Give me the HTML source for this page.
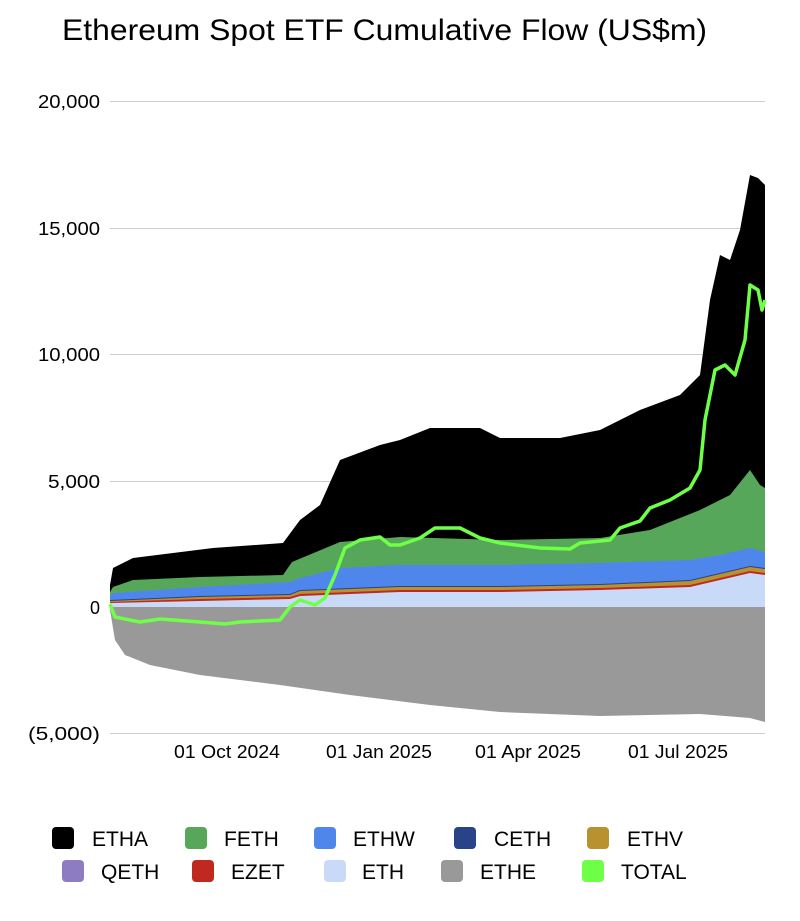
<!DOCTYPE html>
<html><head><meta charset="utf-8"><style>
body{margin:0;background:#fff;width:800px;height:916px;overflow:hidden;font-family:"Liberation Sans",Arial,sans-serif}
</style></head><body>
<svg width="800" height="916" xmlns="http://www.w3.org/2000/svg" font-family="Liberation Sans, Arial, sans-serif">
<text x="62" y="40" font-size="30" fill="#000" textLength="645" lengthAdjust="spacingAndGlyphs">Ethereum Spot ETF Cumulative Flow (US$m)</text>
<g stroke="#cccccc" stroke-width="1">
<line x1="110" y1="101.5" x2="765" y2="101.5"/>
<line x1="110" y1="228.5" x2="765" y2="228.5"/>
<line x1="110" y1="354.5" x2="765" y2="354.5"/>
<line x1="110" y1="481.5" x2="765" y2="481.5"/>
<line x1="110" y1="733.5" x2="765" y2="733.5"/>
</g>
<g font-size="18" fill="#000" text-anchor="end">
<text x="100" y="108" textLength="62" lengthAdjust="spacingAndGlyphs">20,000</text>
<text x="100" y="235" textLength="62" lengthAdjust="spacingAndGlyphs">15,000</text>
<text x="100" y="361" textLength="62" lengthAdjust="spacingAndGlyphs">10,000</text>
<text x="100" y="488" textLength="52" lengthAdjust="spacingAndGlyphs">5,000</text>
<text x="100" y="614">0</text>
<text x="100" y="740" textLength="72" lengthAdjust="spacingAndGlyphs">(5,000)</text>
</g>
<polygon fill="#999999" points="110,607 765,607 765,722 750,718 700,714 600,716 500,712 430,705 350,695 280,685 200,675 150,665 125,655 115,640 110,610"/>
<polygon fill="#000" points="110,607 110,585 113,568 133,558 213,548 283,543 300,520 320,505 340,460 380,445 400,440 430,428 480,428 500,438 560,438 600,430 640,410 680,395 700,375 710,300 720,255 730,260 740,230 750,175 758,178 765,185 765,607"/>
<polygon fill="#57a75b" points="110,607 110,592 113,587 133,580 200,577 283,575 292,562 340,542 400,537 500,540 600,538 650,530 700,510 730,495 750,470 760,485 765,488 765,607"/>
<polygon fill="#4f86ec" points="110,607 110,596 113,593 200,587 290,582 300,578 340,568 400,565 500,565 600,563 690,560 720,555 750,548 765,552 765,607"/>
<polygon fill="#284387" points="110,607 110,600 200,596 290,594 300,590 400,586 500,586 600,584 690,580 720,573 750,566 765,568 765,607"/>
<polygon fill="#b8922f" points="110,607 110,601 200,597 290,595 300,591 400,587 500,587 600,585 690,581 720,574 750,567 765,569 765,607"/>
<polygon fill="#c0291f" points="110,607 110,602 200,599 290,597 300,594 400,590 500,590 600,588 690,585 720,578 750,571 765,573 765,607"/>
<polygon fill="#c9daf8" points="110,607 110,603 200,601 290,599 300,596 400,592 500,592 600,590 690,587 720,580 750,573 765,575 765,607"/>
<polyline fill="none" stroke="#6fff47" stroke-width="3.5" stroke-linejoin="round" points="110,604 115,617 130,620 140,622 160,619 200,622 225,624 240,622 280,620 290,607 300,600 315,605 325,598 335,575 345,548 360,540 380,537 390,545 400,545 420,538 435,528 460,528 480,538 500,543 540,548 570,549 580,543 610,540 620,528 640,521 650,508 670,500 690,488 700,470 705,420 715,370 725,365 735,375 745,340 750,285 758,290 762,310 765,300"/>
<g font-size="18" fill="#000" text-anchor="middle">
<text x="227" y="758" textLength="106" lengthAdjust="spacingAndGlyphs">01 Oct 2024</text>
<text x="379" y="758" textLength="106" lengthAdjust="spacingAndGlyphs">01 Jan 2025</text>
<text x="528" y="758" textLength="106" lengthAdjust="spacingAndGlyphs">01 Apr 2025</text>
<text x="678" y="758" textLength="100" lengthAdjust="spacingAndGlyphs">01 Jul 2025</text>
</g>
<g font-size="21" fill="#000">
<rect x="52" y="827" width="22" height="22" rx="4" fill="#000"/><text x="92" y="846">ETHA</text>
<rect x="185" y="827" width="22" height="22" rx="4" fill="#57a75b"/><text x="224" y="846">FETH</text>
<rect x="314" y="827" width="22" height="22" rx="4" fill="#4f86ec"/><text x="353" y="846">ETHW</text>
<rect x="454" y="827" width="22" height="22" rx="4" fill="#284387"/><text x="494" y="846">CETH</text>
<rect x="587" y="827" width="22" height="22" rx="4" fill="#b8922f"/><text x="627" y="846">ETHV</text>
<rect x="62" y="860" width="22" height="22" rx="4" fill="#8e7cc3"/><text x="101" y="879">QETH</text>
<rect x="192" y="860" width="22" height="22" rx="4" fill="#c0291f"/><text x="231" y="879">EZET</text>
<rect x="324" y="860" width="22" height="22" rx="4" fill="#c9daf8"/><text x="362" y="879">ETH</text>
<rect x="441" y="860" width="22" height="22" rx="4" fill="#999999"/><text x="480" y="879">ETHE</text>
<rect x="582" y="860" width="22" height="22" rx="4" fill="#6fff47"/><text x="621" y="879">TOTAL</text>
</g>
</svg>
</body></html>
